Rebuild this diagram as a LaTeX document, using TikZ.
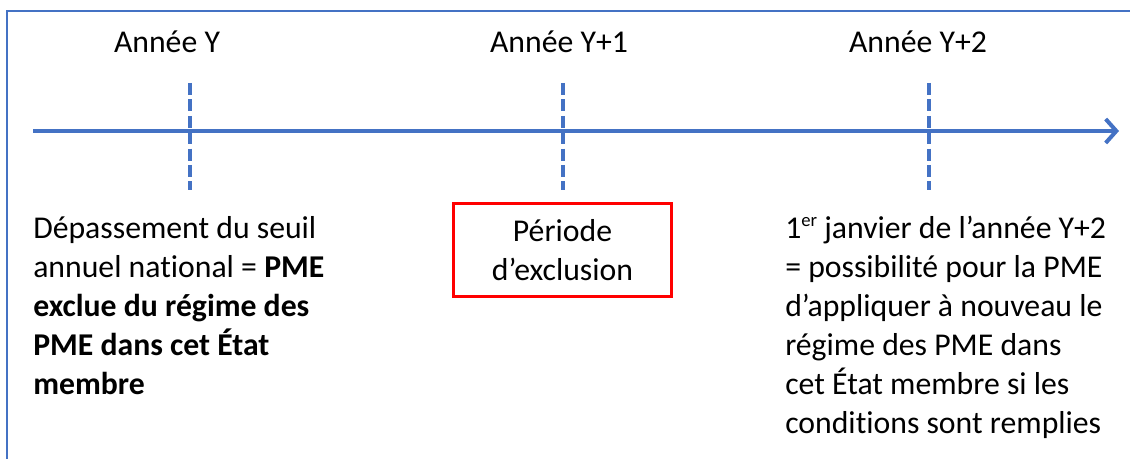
\documentclass[tikz,border=0pt]{standalone}
\usepackage{fontspec}
\setmainfont{Carlito}[RawFeature=-liga]
\usetikzlibrary{arrows.meta}
\definecolor{axisblue}{HTML}{4472C4}
\definecolor{boxred}{HTML}{FF0000}
\newcommand{\ordsup}[1]{\raisebox{0.38em}{\fontsize{14}{14}\selectfont #1}}
\tikzset{
  txt/.style={font=\fontsize{23.8}{29.2}\selectfont, inner sep=0pt, text=black},
  para/.style={txt, align=left, anchor=north west},
  timeline/.style={axisblue, line width=3pt, -{Straight Barb[length=8pt, width=18pt, line width=3pt]}},
  tick/.style={axisblue, line width=3pt, dash pattern=on 9pt off 3.3pt},
  periodbox/.style={draw=boxred, line width=2.4pt, minimum width=164pt, minimum height=70pt, inner sep=0pt, txt, align=center}
}
\begin{document}
\begin{tikzpicture}[x=0.75pt, y=-0.75pt]
  \useasboundingbox (0,0) rectangle (1130,459);
  % outer frame (runs past the page on the right and bottom)
  \draw[axisblue, line width=1.6pt] (7,470) -- (7,11) -- (1140,11);

  % year labels
  \node[txt, anchor=base] (yY)  at (167,53) {Année Y};
  \node[txt, anchor=base] (yY1) at (559,53) {Année Y+1};
  \node[txt, anchor=base] (yY2) at (918,53) {Année Y+2};

  % timeline
  \coordinate (tstart) at (33,131);
  \coordinate (tend)   at (1119,131);
  \draw[timeline] (tstart) -- (tend);

  % year ticks
  \coordinate (t0a) at (190,83);  \coordinate (t0b) at (190,190);
  \coordinate (t1a) at (563,83);  \coordinate (t1b) at (563,190);
  \coordinate (t2a) at (929,83);  \coordinate (t2b) at (929,190);
  \draw[tick] (t0a) -- (t0b);
  \draw[tick] (t1a) -- (t1b);
  \draw[tick] (t2a) -- (t2b);

  % descriptions
  \node[para] (exceed) at (33,216) {Dépassement du seuil\\
    annuel national = \textbf{PME}\\
    \textbf{exclue du régime des}\\
    \textbf{PME dans cet État}\\
    \textbf{membre}};

  \node[periodbox] (period) at (562.5,250) {Période\\d’exclusion};

  \node[para] (reentry) at (785,216) {1\ordsup{er} janvier de l’année Y+2\\
    = possibilité pour la PME\\
    d’appliquer à nouveau le\\
    régime des PME dans\\
    cet État membre si les\\
    conditions sont remplies};
\end{tikzpicture}
\end{document}
